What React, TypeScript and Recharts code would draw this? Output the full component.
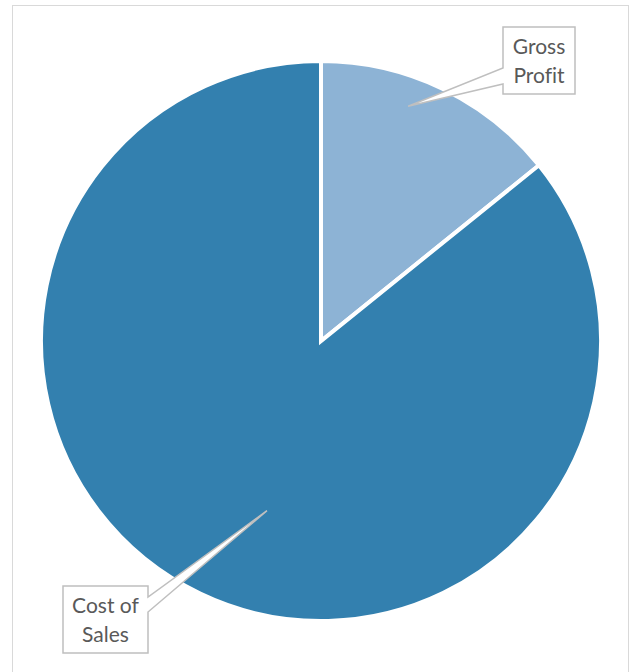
import React from 'react';
import { PieChart, Pie, Cell } from 'recharts';

// Slice values (percent of sales)
const categories = ['Gross Profit', 'Cost of Sales'];
const values = [14.2, 85.8];
const labelLines = [['Gross', 'Profit'], ['Cost of', 'Sales']];

const COLORS = ['#8DB3D5', '#3380AF'];

// Callout boxes: box rect, where the pointer leaves the box, and tip as
// fraction of radius / angle offset from slice middle
const CALLOUTS = [
  { x: 503, y: 27, w: 72, h: 67, side: 'left', a: 68, b: 84, r: 0.894, da: 5.2 },
  { x: 63, y: 586, w: 85, h: 67, side: 'right', a: 597, b: 612, r: 0.636, da: 7.9 },
];

const RAD = Math.PI / 180;

const data = categories.map((name, i) => ({ name, value: values[i] }));

const renderCallout = (props: any) => {
  const { cx, cy, outerRadius, midAngle, index } = props;
  const c = CALLOUTS[index];
  const ang = (midAngle + c.da) * RAD;
  const tx = cx + outerRadius * c.r * Math.cos(ang);
  const ty = cy - outerRadius * c.r * Math.sin(ang);
  const x1 = c.x + c.w;
  const y1 = c.y + c.h;
  let d = '';
  if (c.side === 'left') {
    d = `M${c.x},${c.y} L${x1},${c.y} L${x1},${y1} L${c.x},${y1} L${c.x},${c.b} L${tx},${ty} L${c.x},${c.a} Z`;
  } else {
    d = `M${c.x},${c.y} L${x1},${c.y} L${x1},${c.a} L${tx},${ty} L${x1},${c.b} L${x1},${y1} L${c.x},${y1} Z`;
  }
  const mid = c.x + c.w / 2;
  return (
    <g key={`callout-${index}`}>
      <path d={d} fill="#FFFFFF" stroke="#BFBFBF" strokeWidth={1.5} strokeLinejoin="miter" />
      {labelLines[index].map((line, j) => (
        <text
          key={j}
          x={mid}
          y={c.y + 27 + j * 29}
          textAnchor="middle"
          fill="#595959"
          fontSize={21}
          fontFamily="Lato, 'Open Sans', sans-serif"
          style={{ fontVariantLigatures: 'none' }}
        >
          {line}
        </text>
      ))}
    </g>
  );
};

export default function App() {
  return (
    <div
      style={{
        position: 'absolute',
        left: 0,
        top: 0,
        width: 636,
        height: 672,
        overflow: 'hidden',
        background: '#FFFFFF',
      }}
    >
      <div
        style={{
          position: 'absolute',
          left: 12,
          top: 5,
          width: 617,
          height: 700,
          border: '1.5px solid #D9D9D9',
          boxSizing: 'border-box',
        }}
      />
      <div style={{ position: 'absolute', left: 0, top: 0 }}>
        <PieChart width={636} height={672} margin={{ top: 0, right: 0, bottom: 0, left: 0 }}>
          <Pie
            data={data}
            dataKey="value"
            nameKey="name"
            cx={321}
            cy={341}
            outerRadius={280}
            startAngle={90}
            endAngle={-270}
            stroke="#FFFFFF"
            strokeWidth={4}
            label={renderCallout}
            labelLine={false}
            isAnimationActive={false}
          >
            {data.map((entry, i) => (
              <Cell key={`cell-${i}`} fill={COLORS[i]} />
            ))}
          </Pie>
        </PieChart>
      </div>
    </div>
  );
}
